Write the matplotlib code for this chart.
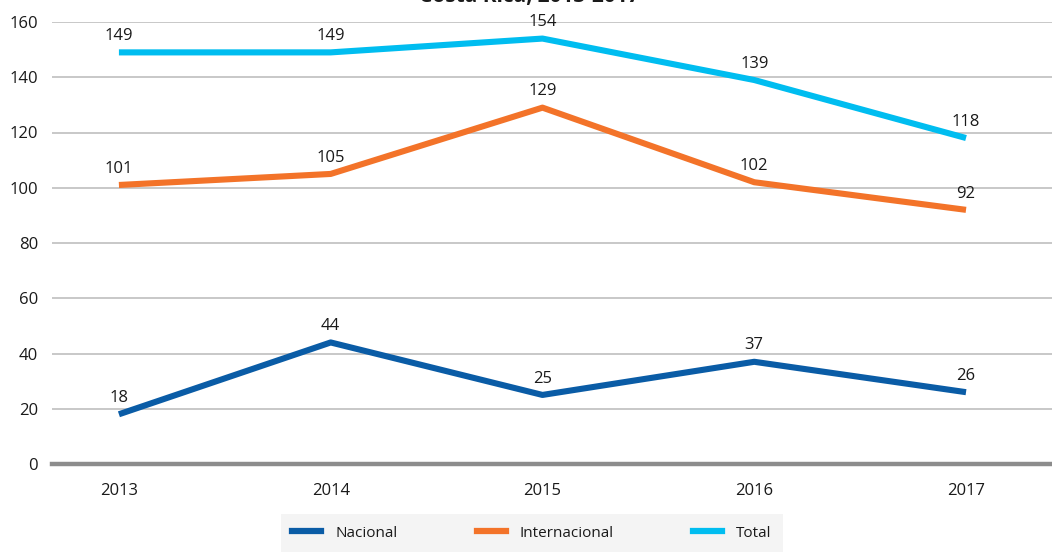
import matplotlib.pyplot as plt
from matplotlib.lines import Line2D

plt.rcParams['font.family'] = ['Open Sans', 'DejaVu Sans']

years = ['2013', '2014', '2015', '2016', '2017']
nacional = [18, 44, 25, 37, 26]
internacional = [101, 105, 129, 102, 92]
total = [149, 149, 154, 139, 118]

series = [
    ('Nacional', nacional, '#0a5ca6'),
    ('Internacional', internacional, '#f37329'),
    ('Total', total, '#00bdf0'),
]

fig = plt.figure(figsize=(10.52, 5.52), dpi=100)
ax = fig.add_axes([52 / 1052, 1 - 464 / 552, 1000 / 1052, 442 / 552])

x = list(range(len(years)))
for name, vals, col in series:
    ax.plot(x, vals, color=col, lw=4.4, solid_capstyle='butt', zorder=3)
    for xi, v in zip(x, vals):
        ax.annotate(str(v), (xi, v), xytext=(0, 6), textcoords='offset points',
                    ha='center', va='bottom', fontsize=12, color='#1a1a1a')

ax.set_xlim(-0.316, 4.406)
ax.set_ylim(0, 160)
ax.set_yticks(range(0, 161, 20))
ax.set_xticks(x)
ax.set_xticklabels(years)
ax.yaxis.grid(True, color='#c4c4c4', lw=1.3)
ax.set_axisbelow(True)
ax.axhline(0, color='#8c8c8c', lw=3.2, zorder=2, clip_on=False)
for s in ax.spines.values():
    s.set_visible(False)
ax.tick_params(length=0, labelsize=12, colors='#1a1a1a')
ax.tick_params(axis='x', pad=14)
ax.tick_params(axis='y', pad=10)

fig.text(0.503, 1 - 2 / 552, 'Costa Rica, 2013-2017', ha='center', va='baseline',
         fontsize=15, fontweight='bold', color='#1a1a1a')

handles = [Line2D([], [], color=c, lw=4.5) for _, _, c in series]
leg = fig.legend(handles, [n for n, _, _ in series], loc='lower center',
                 bbox_to_anchor=(532 / 1052, 0), ncol=3, frameon=True,
                 fontsize=11, handlelength=1.9, columnspacing=5.2,
                 borderpad=0.75, handletextpad=0.9, borderaxespad=0)
leg.get_frame().set_facecolor('#f2f2f2')
leg.get_frame().set_edgecolor('none')
leg.get_frame().set_boxstyle('square', pad=0)
for t in leg.get_texts():
    t.set_color('#1a1a1a')

fig.savefig('out.png', dpi=100)
